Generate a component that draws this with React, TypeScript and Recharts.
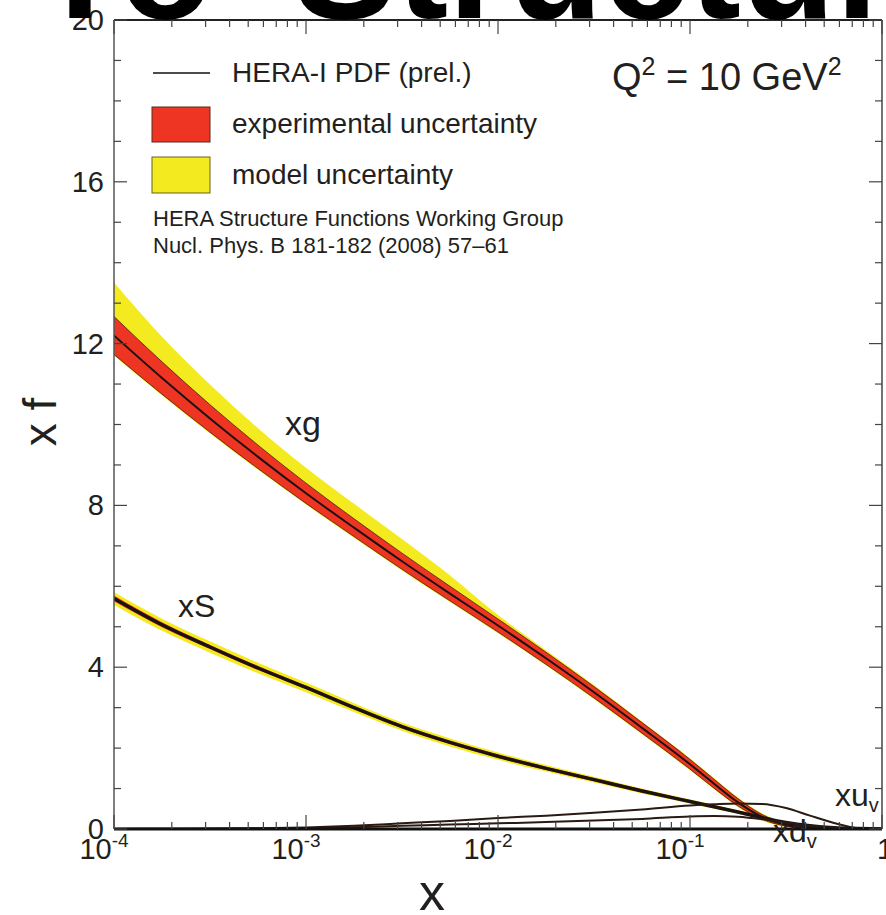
import React from 'react';
import { ComposedChart, Area, Line, XAxis, YAxis, ReferenceLine } from 'recharts';

// x positions (Bjorken x), log-spaced
const xValues = [1e-4, 1.778e-4, 3.162e-4, 5.623e-4, 1e-3, 1.778e-3, 3.162e-3, 5.623e-3, 1e-2, 1.778e-2, 3.162e-2, 5.623e-2, 0.1, 0.1334, 0.1778, 0.2371, 0.3162, 0.4217, 0.5623, 0.7499, 1];

// gluon xg
const xgCentral = [12.2, 11.15, 10.15, 9.2, 8.3, 7.45, 6.62, 5.82, 5.03, 4.22, 3.38, 2.5, 1.6, 1.12, 0.66, 0.3, 0.1, 0.03, 0.01, 0, 0];
const xgExpHi = [12.67, 11.55, 10.49, 9.49, 8.55, 7.67, 6.82, 6.0, 5.19, 4.37, 3.52, 2.63, 1.72, 1.23, 0.75, 0.36, 0.13, 0.045, 0.01, 0, 0];
const xgExpLo = [11.73, 10.75, 9.81, 8.91, 8.05, 7.23, 6.42, 5.64, 4.87, 4.07, 3.24, 2.37, 1.48, 1.01, 0.57, 0.24, 0.07, 0.015, 0.01, 0, 0];
const xgModHi = [13.51, 12.17, 10.99, 9.91, 8.93, 8.04, 7.17, 6.27, 5.29, 4.42, 3.56, 2.66, 1.75, 1.26, 0.78, 0.39, 0.15, 0.05, 0.01, 0, 0];
const xgModLo = [11.7, 10.72, 9.78, 8.88, 8.02, 7.2, 6.39, 5.61, 4.84, 4.04, 3.21, 2.34, 1.45, 0.98, 0.54, 0.21, 0.05, 0.01, 0, 0, 0];

// sea xS
const xSCentral = [5.7, 5.05, 4.5, 3.98, 3.5, 3.0, 2.53, 2.14, 1.8, 1.5, 1.22, 0.94, 0.68, 0.55, 0.42, 0.28, 0.16, 0.08, 0.03, 0.01, 0];
const xSExpHi = [5.77, 5.11, 4.55, 4.03, 3.54, 3.04, 2.57, 2.18, 1.84, 1.54, 1.26, 0.98, 0.71, 0.58, 0.45, 0.3, 0.18, 0.09, 0.035, 0.01, 0];
const xSExpLo = [5.63, 4.99, 4.45, 3.93, 3.46, 2.96, 2.49, 2.1, 1.76, 1.46, 1.18, 0.9, 0.65, 0.52, 0.39, 0.26, 0.14, 0.07, 0.025, 0.01, 0];
const xSModHi = [5.86, 5.2, 4.64, 4.11, 3.62, 3.11, 2.63, 2.24, 1.89, 1.58, 1.29, 1.0, 0.73, 0.6, 0.46, 0.31, 0.19, 0.1, 0.04, 0.01, 0];
const xSModLo = [5.54, 4.9, 4.36, 3.85, 3.38, 2.89, 2.43, 2.04, 1.71, 1.42, 1.15, 0.88, 0.63, 0.5, 0.38, 0.25, 0.13, 0.06, 0.02, 0.01, 0];

// valence
const xuvCentral = [0.005, 0.008, 0.012, 0.02, 0.04, 0.08, 0.14, 0.2, 0.27, 0.33, 0.4, 0.48, 0.58, 0.61, 0.63, 0.62, 0.52, 0.33, 0.15, 0.02, 0];
const xdvCentral = [0.003, 0.005, 0.008, 0.012, 0.02, 0.045, 0.08, 0.11, 0.14, 0.17, 0.21, 0.25, 0.31, 0.32, 0.3, 0.24, 0.16, 0.08, 0.03, 0.005, 0];

// axis ticks
const xMajorTicks = [1e-4, 1e-3, 1e-2, 1e-1, 1];
const xMajorBase = ['10', '10', '10', '10', '1'];
const xMajorExp = ['-4', '-3', '-2', '-1', ''];
const xMinorFactors = [2, 3, 4, 5, 6, 7, 8, 9];
const yMajorTicks = [0, 4, 8, 12, 16, 20];
const yAllTicks = [0, 1, 2, 3, 4, 5, 6, 7, 8, 9, 10, 11, 12, 13, 14, 15, 16, 17, 18, 19, 20];

// legend / annotation texts
const legendLine = 'HERA-I PDF (prel.)';
const legendExp = 'experimental uncertainty';
const legendModel = 'model uncertainty';
const refLine1 = 'HERA Structure Functions Working Group';
const refLine2 = 'Nucl. Phys. B 181-182 (2008) 57\u201361';

const RED = '#ee3524';
const YELLOW = '#f3ea1f';
const DARK = '#231f20';
const FONT = '"Liberation Sans", Arial, Helvetica, sans-serif';

const PLOT = { left: 114, right: 882, top: 20, bottom: 829 };

const xTicks: number[] = [];
xMajorTicks.forEach((m, i) => {
  xTicks.push(m);
  if (i < xMajorTicks.length - 1) xMinorFactors.forEach((f) => xTicks.push(m * f));
});

const data = xValues.map((x, i) => ({
  x,
  gC: xgCentral[i],
  gE: [xgExpLo[i], xgExpHi[i]],
  gM: [xgModLo[i], xgModHi[i]],
  sC: xSCentral[i],
  sE: [xSExpLo[i], xSExpHi[i]],
  sM: [xSModLo[i], xSModHi[i]],
  uv: xuvCentral[i],
  dv: xdvCentral[i],
}));

const XTick = (props: any) => {
  const { x, payload } = props;
  const v = payload.value;
  const idx = xMajorTicks.findIndex((t) => Math.abs(t - v) / t < 1e-6);
  const len = idx >= 0 ? 14 : 7;
  return (
    <g>
      <line x1={x} x2={x} y1={PLOT.bottom} y2={PLOT.bottom - len} stroke="#444" strokeWidth={1.2} />
      <line x1={x} x2={x} y1={PLOT.top} y2={PLOT.top + len} stroke="#444" strokeWidth={1.2} />
      {idx >= 0 && (
        <text
          x={xMajorExp[idx] ? x - 10 : x + 3}
          y={PLOT.bottom + 30}
          textAnchor="middle"
          fontSize={29}
          fontFamily={FONT}
          fill={DARK}
        >
          {xMajorBase[idx]}
          {xMajorExp[idx] && (
            <tspan dy={-12} fontSize={19}>
              {xMajorExp[idx]}
            </tspan>
          )}
        </text>
      )}
    </g>
  );
};

const YTick = (props: any) => {
  const { y, payload } = props;
  const v = payload.value;
  const major = yMajorTicks.includes(v);
  const len = major ? 13 : 7;
  return (
    <g>
      <line x1={PLOT.left} x2={PLOT.left + len} y1={y} y2={y} stroke="#444" strokeWidth={1.2} />
      <line x1={PLOT.right} x2={PLOT.right - len} y1={y} y2={y} stroke="#444" strokeWidth={1.2} />
      {major && (
        <text x={PLOT.left - 10} y={y + 10} textAnchor="end" fontSize={29} fontFamily={FONT} fill={DARK}>
          {String(v)}
        </text>
      )}
    </g>
  );
};

export default function App() {
  return (
    <div style={{ position: 'absolute', left: 0, top: 0, width: 886, height: 915, overflow: 'hidden', background: '#fff' }}>
      <ComposedChart width={886} height={915} data={data} margin={{ top: 20, right: 4, bottom: 0, left: 0 }}>
        <XAxis
          dataKey="x"
          type="number"
          scale="log"
          domain={[1e-4, 1]}
          allowDataOverflow
          ticks={xTicks}
          interval={0}
          tickSize={0}
          tickMargin={0}
          tick={<XTick />}
          axisLine={{ stroke: '#111', strokeWidth: 3 }}
          tickLine={false}
          height={86}
        />
        <YAxis
          type="number"
          domain={[0, 20]}
          allowDataOverflow
          ticks={yAllTicks}
          interval={0}
          tickSize={0}
          tickMargin={0}
          tick={<YTick />}
          axisLine={{ stroke: '#555', strokeWidth: 1.5 }}
          tickLine={false}
          width={114}
        />
        <Area type="monotone" dataKey="gM" stroke="none" fill={YELLOW} fillOpacity={1} isAnimationActive={false} />
        <Area type="monotone" dataKey="gE" stroke="#4a1a10" strokeWidth={0.8} fill={RED} fillOpacity={1} isAnimationActive={false} />
        <Line type="monotone" dataKey="gC" stroke="#1d1212" strokeWidth={2} dot={false} isAnimationActive={false} />
        <Area type="monotone" dataKey="sM" stroke="none" fill={YELLOW} fillOpacity={1} isAnimationActive={false} />
        <Area type="monotone" dataKey="sE" stroke="none" fill={RED} fillOpacity={1} isAnimationActive={false} />
        <Line type="monotone" dataKey="sC" stroke="#1d1212" strokeWidth={3.5} dot={false} isAnimationActive={false} />
        <Line type="monotone" dataKey="uv" stroke="#2a1a12" strokeWidth={2} dot={false} isAnimationActive={false} />
        <Line type="monotone" dataKey="dv" stroke="#2a1a12" strokeWidth={2} dot={false} isAnimationActive={false} />
        <ReferenceLine y={20} stroke="#222" strokeWidth={2} ifOverflow="visible" />
        <ReferenceLine x={1} stroke="#444" strokeWidth={1.5} ifOverflow="visible" />
      </ComposedChart>
      <svg
        width={886}
        height={915}
        style={{ position: 'absolute', left: 0, top: 0, pointerEvents: 'none' }}
      >
        <text x={293} y={18} fontSize={155} fontWeight="bold" fontFamily={FONT} fill="#000">
          Structure
        </text>
        <text x={-45} y={18} fontSize={155} fontWeight="bold" fontFamily={FONT} fill="#000">
          Pro
        </text>
        <line x1={153} x2={210} y1={73} y2={73} stroke="#111" strokeWidth={1.5} />
        <rect x={152} y={107} width={58} height={35} fill={RED} stroke="#5a2a1a" strokeWidth={1} />
        <rect x={152} y={157} width={58} height={36} fill={YELLOW} stroke="#6a6020" strokeWidth={1} />
        <g fontFamily={FONT} fill={DARK}>
          <text x={232} y={82} fontSize={28}>{legendLine}</text>
          <text x={232} y={133} fontSize={28}>{legendExp}</text>
          <text x={232} y={184} fontSize={28}>{legendModel}</text>
          <text x={153} y={226} fontSize={22}>{refLine1}</text>
          <text x={153} y={253} fontSize={22}>{refLine2}</text>
          <text x={612} y={90} fontSize={38}>
            Q<tspan dy={-15} fontSize={25}>2</tspan>
            <tspan dy={15}> = 10 GeV</tspan>
            <tspan dy={-15} fontSize={25}>2</tspan>
          </text>
          <text x={285} y={435} fontSize={34}>xg</text>
          <text x={178} y={617} fontSize={32}>xS</text>
          <text x={835} y={806} fontSize={32}>
            xu<tspan dy={6} fontSize={20}>v</tspan>
          </text>
          <text x={773} y={842} fontSize={32}>
            xd<tspan dy={6} fontSize={20}>v</tspan>
          </text>
          <text x={56} y={422} fontSize={46} textAnchor="middle" transform="rotate(-90 56 422)">
            x f
          </text>
          <text x={432} y={910} fontSize={52} textAnchor="middle">
            x
          </text>
        </g>
      </svg>
    </div>
  );
}
